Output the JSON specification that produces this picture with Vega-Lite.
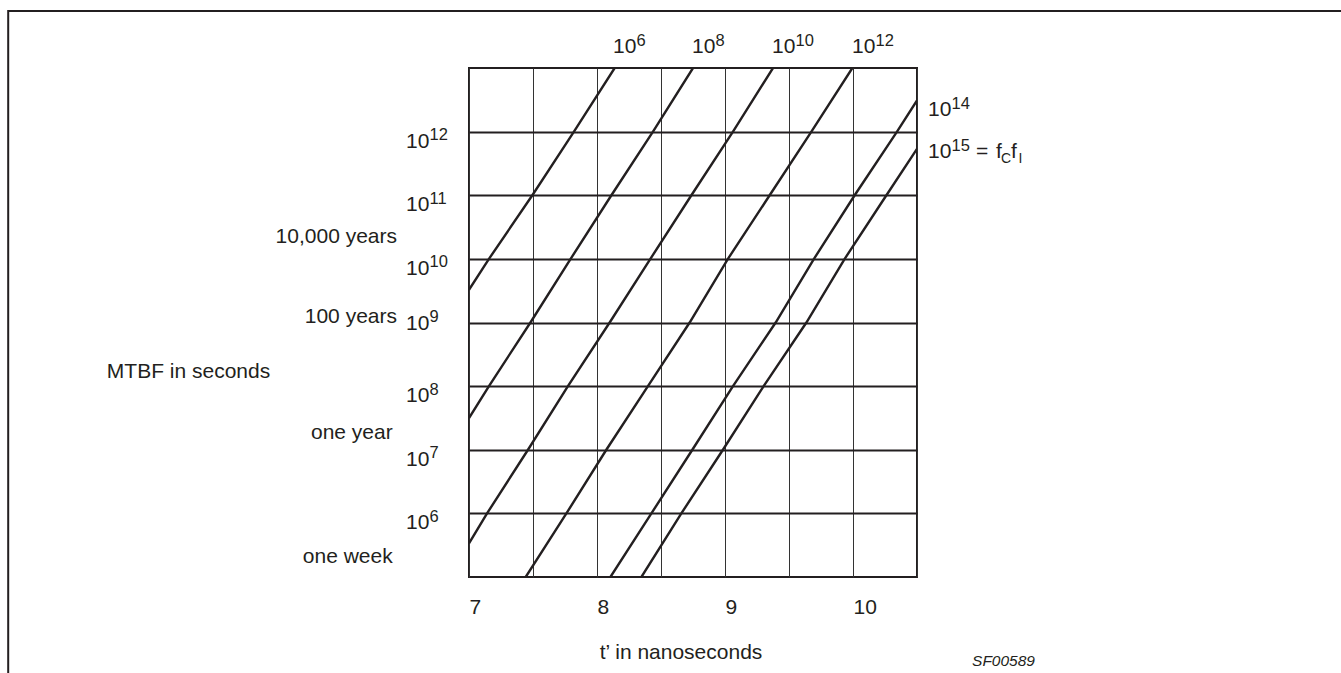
{
  "$schema": "https://vega.github.io/schema/vega-lite/v6.json",
  "width": 448,
  "height": 509,
  "autosize": {"type": "none"},
  "padding": {"left": 469, "top": 68, "right": 424, "bottom": 96},
  "background": "white",
  "config": {
    "font": "Liberation Sans",
    "view": {"stroke": "#231f20", "strokeWidth": 2},
    "text": {"color": "#231f20", "font": "Liberation Sans"}
  },
  "datasets": {
    "curves": [
      {"s": "1e6", "t": 7, "mtbf": 3.266e9},
      {"s": "1e6", "t": 7.156, "mtbf": 1e10},
      {"s": "1e6", "t": 7.495, "mtbf": 1e11},
      {"s": "1e6", "t": 7.82, "mtbf": 1e12},
      {"s": "1e6", "t": 8.138, "mtbf": 1e13},
      {"s": "1e8", "t": 7, "mtbf": 3.141e7},
      {"s": "1e8", "t": 7.156, "mtbf": 1e8},
      {"s": "1e8", "t": 7.48, "mtbf": 1e9},
      {"s": "1e8", "t": 7.794, "mtbf": 1e10},
      {"s": "1e8", "t": 8.1125, "mtbf": 1e11},
      {"s": "1e8", "t": 8.4375, "mtbf": 1e12},
      {"s": "1e8", "t": 8.75, "mtbf": 1e13},
      {"s": "1e10", "t": 7, "mtbf": 3.388e5},
      {"s": "1e10", "t": 7.141, "mtbf": 1e6},
      {"s": "1e10", "t": 7.461, "mtbf": 1e7},
      {"s": "1e10", "t": 7.773, "mtbf": 1e8},
      {"s": "1e10", "t": 8.099, "mtbf": 1e9},
      {"s": "1e10", "t": 8.417, "mtbf": 1e10},
      {"s": "1e10", "t": 8.7375, "mtbf": 1e11},
      {"s": "1e10", "t": 9.0625, "mtbf": 1e12},
      {"s": "1e10", "t": 9.375, "mtbf": 1e13},
      {"s": "1e12", "t": 7.443, "mtbf": 1e5},
      {"s": "1e12", "t": 7.761, "mtbf": 1e6},
      {"s": "1e12", "t": 8.073, "mtbf": 1e7},
      {"s": "1e12", "t": 8.398, "mtbf": 1e8},
      {"s": "1e12", "t": 8.724, "mtbf": 1e9},
      {"s": "1e12", "t": 9.023, "mtbf": 1e10},
      {"s": "1e12", "t": 9.349, "mtbf": 1e11},
      {"s": "1e12", "t": 9.675, "mtbf": 1e12},
      {"s": "1e12", "t": 9.995, "mtbf": 1e13},
      {"s": "1e14", "t": 8.105, "mtbf": 1e5},
      {"s": "1e14", "t": 8.425, "mtbf": 1e6},
      {"s": "1e14", "t": 8.745, "mtbf": 1e7},
      {"s": "1e14", "t": 9.0625, "mtbf": 1e8},
      {"s": "1e14", "t": 9.396, "mtbf": 1e9},
      {"s": "1e14", "t": 9.695, "mtbf": 1e10},
      {"s": "1e14", "t": 10.013, "mtbf": 1e11},
      {"s": "1e14", "t": 10.344, "mtbf": 1e12},
      {"s": "1e14", "t": 10.5, "mtbf": 3.09e12},
      {"s": "1e15", "t": 8.347, "mtbf": 1e5},
      {"s": "1e15", "t": 8.659, "mtbf": 1e6},
      {"s": "1e15", "t": 8.984, "mtbf": 1e7},
      {"s": "1e15", "t": 9.302, "mtbf": 1e8},
      {"s": "1e15", "t": 9.636, "mtbf": 1e9},
      {"s": "1e15", "t": 9.935, "mtbf": 1e10},
      {"s": "1e15", "t": 10.261, "mtbf": 1e11},
      {"s": "1e15", "t": 10.5, "mtbf": 5.37e11}
    ],
    "lineLabels": [
      {"t": 8.125, "mtbf": 1.72e13, "exp": "6"},
      {"t": 8.742, "mtbf": 1.72e13, "exp": "8"},
      {"t": 9.367, "mtbf": 1.72e13, "exp": "10"},
      {"t": 9.992, "mtbf": 1.72e13, "exp": "12"},
      {"t": 10.586, "mtbf": 1.76e12, "exp": "14"},
      {"t": 10.586, "mtbf": 3.85e11, "exp": "15"}
    ],
    "yLabels": [
      {"t": 6.508, "mtbf": 1e6, "exp": "6"},
      {"t": 6.508, "mtbf": 1e7, "exp": "7"},
      {"t": 6.508, "mtbf": 1e8, "exp": "8"},
      {"t": 6.508, "mtbf": 1e9, "exp": "9"},
      {"t": 6.508, "mtbf": 1e10, "exp": "10"},
      {"t": 6.508, "mtbf": 1e11, "exp": "11"},
      {"t": 6.508, "mtbf": 1e12, "exp": "12"}
    ],
    "notes": [
      {"t": 6.4375, "mtbf": 1.774e10, "text": "10,000 years"},
      {"t": 6.4375, "mtbf": 9.82e8, "text": "100 years"},
      {"t": 6.404, "mtbf": 1.476e7, "text": "one year"},
      {"t": 6.404, "mtbf": 1.64e5, "text": "one week"}
    ],
    "code": [
      {"t": 10.93, "mtbf": 3.99e3, "text": "SF00589"}
    ],
    "frame": [
      {"t": 3.4, "t2": 14.5, "mtbf": 7.87e13, "mtbf2": 1e3}
    ]
  },
  "encoding": {
    "x": {
      "field": "t",
      "type": "quantitative",
      "scale": {"domain": [7, 10.5], "nice": false, "zero": false},
      "axis": {
        "values": [7, 7.5, 8, 8.5, 9, 9.5, 10, 10.5],
        "labelExpr": "datum.value % 1 === 0 && datum.value < 10.4 ? format(datum.value, 'd') : ''",
        "domain": false,
        "ticks": false,
        "tickSize": 0,
        "labelPadding": 36,
        "labelAlign": "left",
        "labelBaseline": "alphabetic",
        "labelFontSize": 21,
        "labelColor": "#231f20",
        "labelFont": "Liberation Sans",
        "labelFlush": false,
        "labelOverlap": false,
        "labelBound": false,
        "grid": true,
        "gridColor": "#333333",
        "gridWidth": 1,
        "gridOpacity": 1,
        "title": "t’ in nanoseconds",
        "titleFont": "Liberation Sans",
        "titleFontSize": 21,
        "titleFontWeight": "normal",
        "titleColor": "#231f20",
        "titleX": 211.5,
        "titleY": 81,
        "titleAlign": "center",
        "titleBaseline": "alphabetic"
      }
    },
    "y": {
      "field": "mtbf",
      "type": "quantitative",
      "scale": {"type": "log", "domain": [1e5, 1e13], "nice": false},
      "axis": {
        "values": [1e6, 1e7, 1e8, 1e9, 1e10, 1e11, 1e12],
        "labels": false,
        "ticks": false,
        "tickSize": 0,
        "domain": false,
        "grid": true,
        "gridColor": "#231f20",
        "gridWidth": 2,
        "gridOpacity": 1,
        "title": "MTBF in seconds",
        "titleFont": "Liberation Sans",
        "titleFontSize": 21,
        "titleFontWeight": "normal",
        "titleColor": "#231f20",
        "titleAngle": 0,
        "titleX": -281,
        "titleY": 309.3,
        "titleAlign": "center",
        "titleBaseline": "alphabetic"
      }
    }
  },
  "layer": [
    {
      "data": {"name": "frame"},
      "mark": {"type": "rect", "filled": false, "stroke": "#231f20", "strokeWidth": 2, "clip": false},
      "encoding": {
        "x2": {"field": "t2"},
        "y2": {"field": "mtbf2"}
      }
    },
    {
      "data": {"name": "curves"},
      "mark": {"type": "line", "stroke": "#231f20", "strokeWidth": 2.4, "clip": true},
      "encoding": {"detail": {"field": "s", "type": "nominal"}}
    },
    {
      "data": {"name": "lineLabels"},
      "mark": {"type": "text", "text": "10", "align": "left", "baseline": "alphabetic", "fontSize": 21, "clip": false}
    },
    {
      "data": {"name": "lineLabels"},
      "mark": {"type": "text", "align": "left", "baseline": "alphabetic", "fontSize": 16.5, "dx": 23.5, "dy": -7.5, "clip": false},
      "encoding": {"text": {"field": "exp"}}
    },
    {
      "data": {"name": "lineLabels"},
      "transform": [{"filter": "datum.exp === '15'"}],
      "mark": {"type": "text", "text": "=", "align": "left", "baseline": "alphabetic", "fontSize": 21, "dx": 48, "clip": false}
    },
    {
      "data": {"name": "lineLabels"},
      "transform": [{"filter": "datum.exp === '15'"}],
      "mark": {"type": "text", "text": "f", "align": "left", "baseline": "alphabetic", "fontSize": 21, "dx": 68, "clip": false}
    },
    {
      "data": {"name": "lineLabels"},
      "transform": [{"filter": "datum.exp === '15'"}],
      "mark": {"type": "text", "text": "C", "align": "left", "baseline": "alphabetic", "fontSize": 14, "dx": 73, "dy": 5.3, "clip": false}
    },
    {
      "data": {"name": "lineLabels"},
      "transform": [{"filter": "datum.exp === '15'"}],
      "mark": {"type": "text", "text": "f", "align": "left", "baseline": "alphabetic", "fontSize": 21, "dx": 83, "clip": false}
    },
    {
      "data": {"name": "lineLabels"},
      "transform": [{"filter": "datum.exp === '15'"}],
      "mark": {"type": "text", "text": "I", "align": "left", "baseline": "alphabetic", "fontSize": 14, "dx": 90.5, "dy": 5.3, "clip": false}
    },
    {
      "data": {"name": "yLabels"},
      "transform": [{"filter": "datum.mtbf != 1e9"}],
      "mark": {"type": "text", "text": "10", "align": "left", "baseline": "alphabetic", "fontSize": 21, "dy": 16, "clip": false}
    },
    {
      "data": {"name": "yLabels"},
      "transform": [{"filter": "datum.mtbf != 1e9"}],
      "mark": {"type": "text", "align": "left", "baseline": "alphabetic", "fontSize": 16.5, "dx": 23.5, "dy": 8.5, "clip": false},
      "encoding": {"text": {"field": "exp"}}
    },
    {
      "data": {"name": "yLabels"},
      "transform": [{"filter": "datum.mtbf == 1e9"}],
      "mark": {"type": "text", "text": "10", "align": "left", "baseline": "alphabetic", "fontSize": 21, "dy": 7.3, "clip": false}
    },
    {
      "data": {"name": "yLabels"},
      "transform": [{"filter": "datum.mtbf == 1e9"}],
      "mark": {"type": "text", "align": "left", "baseline": "alphabetic", "fontSize": 16.5, "dx": 23.5, "dy": -0.2, "clip": false},
      "encoding": {"text": {"field": "exp"}}
    },
    {
      "data": {"name": "notes"},
      "mark": {"type": "text", "align": "right", "baseline": "alphabetic", "fontSize": 21, "clip": false},
      "encoding": {"text": {"field": "text"}}
    },
    {
      "data": {"name": "code"},
      "mark": {"type": "text", "align": "left", "baseline": "alphabetic", "fontSize": 15.5, "fontStyle": "italic", "clip": false},
      "encoding": {"text": {"field": "text"}}
    }
  ]
}
